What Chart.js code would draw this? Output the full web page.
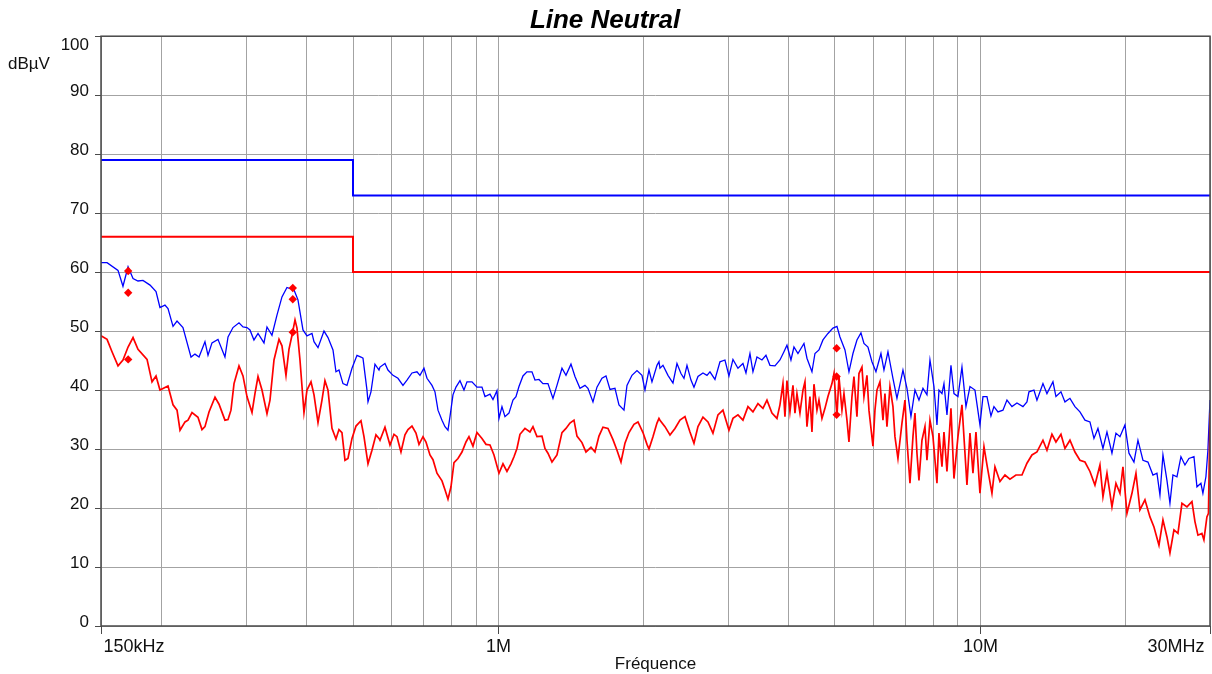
<!DOCTYPE html>
<html><head><meta charset="utf-8">
<script src="https://cdn.jsdelivr.net/npm/chart.js@4.4.1/dist/chart.umd.min.js"></script>
<style>html,body{margin:0;padding:0;background:#fff;}canvas{display:block;}</style>
</head><body>
<canvas id="c" width="1212" height="674"></canvas>
<script>
// ---- data (frequency in MHz, level in dBµV) ----
const freqBlue = [
0.150,0.1544,0.1627,0.1666,0.1707,0.1748,0.1790,0.1833,0.1896,0.1951,0.1988,0.2036,0.2066,0.2116,0.2157,0.2219,0.2306,0.2350,0.2396,0.2465,0.2501,0.2549,0.2623,0.2712,0.2752,0.2818,0.2900,0.2956,0.3013,0.3056,0.3115,0.3176,0.3268,0.3315,0.3395,0.3477,0.3561,0.3647,0.3700,0.3754,0.3844,0.3937,0.4013,0.4110,0.4150,0.4230,0.4353,0.4437,0.4544,0.4609,0.4676,0.4766,0.4858,0.4976,0.5096,0.5194,0.5244,0.5345,0.5371,0.5448,0.5553,0.5661,
0.5688,0.5825,0.5909,0.6052,0.6198,0.6348,0.6471,0.6627,0.6787,0.6885,0.7018,0.7120,0.7292,0.7397,0.7504,0.7649,0.7759,0.7871,0.7947,0.8061,0.8178,0.8335,0.8496,0.8619,0.8827,0.9040,0.9259,0.9393,0.9620,0.9759,0.9947,1.0043,1.0187,1.0334,1.0533,1.0737,1.0892,1.1049,1.1262,1.1479,1.1757,1.1927,1.2157,1.2391,1.2690,1.2998,1.3248,1.3569,1.3831,1.4165,1.4438,1.4787,1.5145,1.5363,1.5735,1.6038,1.6427,1.6744,1.7067,1.7479,1.7816,1.8248,1.8511,1.8958,1.9417,1.9886,2.0173,2.0562,2.0858,2.1363,2.1568,
2.1671,2.1984,2.2516,2.3060,2.3505,2.3959,2.4305,2.4656,2.5131,2.5494,2.5986,2.6613,2.7127,2.7518,2.8182,2.8864,2.9561,3.0132,3.0713,3.1456,3.2216,3.2682,3.3312,3.3792,3.4444,3.5277,3.5958,3.6651,3.7537,3.8445,3.9187,3.9752,4.0519,4.1104,4.1897,4.3117,4.3739,4.4796,4.5442,4.6319,4.7213,4.8354,4.9523,5.0478,5.1207,5.2446,5.3458,5.4488,5.5539,5.6611,5.7429,5.8536,5.9665,6.0817,6.2287,6.3186,6.4405,6.5962,6.7235,6.9193,7.0528,7.1888,7.3275,7.4689,7.6131,7.7600,7.8720,8.0238,8.1396,8.2178,
8.3363,8.4164,8.5379,8.7026,8.8283,8.9986,9.1722,9.3492,9.5295,9.7599,9.9958,10.140,10.336,10.535,10.687,10.893,11.157,11.372,11.647,11.928,12.275,12.512,12.632,12.937,13.124,13.506,13.766,14.167,14.371,14.719,15.003,15.365,15.737,16.117,16.507,16.906,17.232,17.564,17.990,18.337,18.780,19.142,19.511,19.983,20.369,20.861,21.263,21.777,22.304,22.843,23.284,23.620,23.961,24.423,24.776,25.133,25.618,26.112,26.616,27.129,27.786,28.187,28.725,29.001,29.420,29.702,30.0
];
const levelBlue = [
61.6,61.6,60.3,57.6,60.9,58.9,58.5,58.6,57.8,56.7,54.0,54.4,53.8,50.8,51.7,50.6,45.6,46.1,45.6,48.2,45.9,48.0,48.6,45.6,49.0,50.6,51.4,50.7,50.6,50.2,48.5,49.6,48.0,50.7,49.3,52.7,55.8,57.4,57.2,57.4,55.3,50.2,49.2,49.6,48.2,47.2,50.0,48.9,46.8,43.1,43.4,41.1,40.8,43.7,45.9,45.6,45.4,40.0,38.0,39.7,44.4,43.4,
43.9,44.5,43.4,42.5,42.0,40.8,41.7,42.9,43.1,42.5,43.7,42.0,40.8,39.7,36.6,34.9,33.8,33.2,35.5,39.2,40.5,41.6,40.0,41.4,41.4,40.5,40.5,38.9,39.3,38.4,39.9,35.2,37.2,35.5,36.1,38.3,38.9,40.6,42.4,43.1,43.1,41.7,41.8,41.1,41.1,38.6,40.8,43.7,42.5,44.4,42.3,40.3,40.8,40.3,38.0,40.5,42.0,42.4,40.1,40.3,37.5,36.6,40.8,42.5,43.3,42.5,40.0,43.4,41.4,44.2,44.8,
43.7,44.2,42.5,41.2,44.5,42.8,42.0,44.2,41.7,40.5,42.3,42.9,42.5,43.1,41.8,44.8,45.1,42.4,45.2,43.7,44.5,42.9,46.2,43.1,45.6,45.1,45.9,44.2,44.1,45.1,46.5,47.6,45.1,47.3,46.2,47.9,45.4,43.1,46.2,46.8,48.5,49.6,50.5,50.8,49.0,46.8,43.1,46.2,48.5,49.7,47.9,47.3,44.8,43.1,46.2,43.4,46.5,42.0,38.6,43.4,40.3,35.5,40.0,38.3,40.3,39.2,45.1,40.6,34.1,40.0,
39.4,41.1,35.8,44.2,39.4,38.9,43.9,37.2,40.6,40.0,34.1,38.9,38.9,35.6,37.2,36.3,36.6,38.3,37.2,37.8,37.2,38.0,39.7,40.0,38.3,41.1,39.4,41.4,38.9,39.7,38.0,38.6,37.2,36.3,34.9,34.6,31.8,33.5,30.1,32.9,29.3,32.7,32.1,34.1,29.3,27.8,31.5,28.1,27.8,25.6,25.9,22.2,29.0,24.7,20.8,25.6,25.3,28.7,27.3,28.4,28.7,23.6,24.2,22.5,25.3,29.8,38.3
];
const freqRed = [
0.150,0.1544,0.1581,0.1627,0.1666,0.1707,0.1748,0.1790,0.1869,0.1914,0.1951,0.1988,0.2066,0.2116,0.2157,0.2188,0.2241,0.2273,0.2317,0.2384,0.2430,0.2465,0.2513,0.2586,0.2636,0.2712,0.2752,0.2791,0.2832,0.2900,0.2956,0.3013,0.3086,0.3130,0.3176,0.3237,0.3315,0.3363,0.3428,0.3511,0.3561,0.3630,0.3682,0.3736,0.3790,0.3826,0.3881,0.3956,0.4013,0.4091,0.4150,0.4230,0.4311,0.4373,0.4437,0.4522,0.4609,0.4676,0.4743,0.4812,0.4881,0.4976,0.5072,0.5194,0.5269,0.5371,0.5474,0.5580,0.5661,
0.5688,0.5825,0.5966,0.6081,0.6169,0.6288,0.6409,0.6502,0.6627,0.6755,0.6853,0.6985,0.7086,0.7222,0.7327,0.7468,0.7649,0.7759,0.7871,0.7985,0.8100,0.8256,0.8415,0.8578,0.8701,0.8869,0.9040,0.9259,0.9438,0.9620,0.9806,1.0043,1.0236,1.0433,1.0635,1.0789,1.0944,1.1102,1.1370,1.1645,1.1813,1.2041,1.2332,1.2510,1.2690,1.2936,1.3248,1.3569,1.3831,1.4097,1.4370,1.4577,1.4929,1.5217,1.5585,1.5886,1.6192,1.6505,1.6905,1.7313,1.7647,1.7988,1.8335,1.8689,1.9140,1.9510,1.9981,2.0367,2.0562,2.0958,2.1363,2.1568,
2.1671,2.2195,2.2732,2.3282,2.3844,2.4421,2.5011,2.5494,2.5986,2.6613,2.7256,2.7914,2.8589,2.9280,3.0132,3.0713,3.1456,3.2216,3.2995,3.3792,3.4609,3.5446,3.6130,3.7003,3.7898,3.8445,3.9000,3.9374,3.9752,4.0326,4.0908,4.1301,4.1697,4.2299,4.2911,4.3323,4.3739,4.4370,4.4796,4.5226,4.5878,4.6319,4.6988,4.7666,4.8354,4.9287,4.9760,5.0478,5.0963,5.1700,5.2196,5.2949,5.3458,5.4229,5.4749,5.5539,5.6073,5.6882,5.7429,5.8257,5.8817,5.9951,6.0526,6.1108,6.1990,6.2885,6.3489,6.4098,6.5023,6.5962,6.6595,6.7557,6.8863,6.9857,7.0528,7.1546,7.2578,7.3275,7.3978,7.4689,7.5768,7.6862,7.7600,7.8720,7.9855,8.1396,8.2178,
8.3363,8.4164,8.5379,8.7026,8.8283,8.9986,9.1722,9.3940,9.5295,9.6670,9.8070,9.9958,10.189,10.336,10.585,10.738,10.998,11.264,11.536,11.871,12.217,12.512,12.814,13.124,13.506,13.766,14.099,14.371,14.719,15.003,15.365,15.737,16.117,16.507,16.906,17.314,17.733,17.990,18.337,18.780,19.142,19.511,19.793,20.175,20.663,21.061,21.467,21.986,22.518,22.953,23.508,23.961,24.423,24.776,25.253,25.741,26.237,26.871,27.521,27.918,28.322,28.863,29.140,29.560,29.780,30.0
];
const levelRed = [
49.2,48.6,46.5,44.1,45.1,47.3,48.9,46.9,45.2,41.4,42.4,40.0,40.7,37.5,36.6,33.2,34.6,34.9,36.2,35.4,33.3,33.8,36.3,38.8,37.6,34.9,35.0,36.6,41.1,44.1,42.4,38.9,36.2,39.4,42.3,40.0,36.0,38.3,45.1,48.6,47.5,42.5,46.9,49.3,51.9,50.5,45.1,36.2,40.0,41.4,39.2,34.5,38.3,41.6,40.0,33.5,31.7,33.3,32.8,28.1,28.4,31.8,33.9,34.8,32.1,27.5,29.8,32.4,31.8,
31.5,33.7,30.7,32.5,32.1,29.5,32.4,33.3,33.9,32.7,30.8,32.1,31.2,29.0,28.2,25.9,24.6,23.1,21.5,23.6,27.7,28.4,29.5,31.2,32.1,30.5,32.8,31.8,30.8,30.7,29.0,25.9,27.5,26.2,27.5,28.7,30.1,32.5,33.5,32.9,33.8,32.1,32.2,30.1,29.3,27.8,29.0,32.8,33.5,34.4,34.9,32.2,31.1,29.5,30.3,29.5,32.2,33.7,33.5,31.6,29.8,27.8,31.0,32.8,34.2,34.6,32.8,30.8,30.0,32.1,34.4,35.2,
34.9,33.8,32.4,33.5,34.9,35.5,32.9,31.0,33.8,35.4,34.6,32.7,35.8,36.6,33.2,35.2,35.8,34.9,37.2,36.3,37.7,36.9,38.3,36.1,35.2,37.5,41.1,35.5,41.6,36.3,40.8,36.1,39.4,36.1,40.0,41.4,33.8,38.9,32.9,41.0,36.6,38.3,35.2,36.9,38.9,41.1,42.8,35.5,42.3,36.6,39.4,34.9,31.2,38.9,42.3,35.5,42.8,43.9,38.9,42.5,36.6,30.5,36.6,40.0,41.4,34.9,39.4,33.8,40.6,37.2,32.1,28.4,34.4,38.3,31.5,24.2,32.1,36.1,29.3,24.7,31.5,33.8,28.1,34.9,32.1,24.2,32.7,
27.0,32.9,26.2,36.9,25.0,32.1,37.5,23.9,32.7,25.9,32.9,22.5,30.4,27.3,22.5,27.0,24.5,25.6,24.9,25.6,25.6,27.6,29.0,29.5,31.5,29.8,32.5,31.2,32.5,30.1,31.5,29.5,28.1,27.8,26.2,23.9,27.3,21.9,25.9,20.2,24.2,22.5,27.0,19.1,22.5,25.9,19.7,21.4,18.5,16.8,13.7,18.0,15.1,12.4,16.3,15.7,20.8,20.2,21.1,17.7,15.4,15.7,14.6,18.5,19.1,36.1
];
const limitFreq = [0.15, 0.5, 0.5, 30];
const limitQP = [79, 79, 73, 73];
const limitAV = [66, 66, 60, 60];
const markerFreq = [0.1708, 0.1708, 0.1708, 0.375, 0.375, 0.375, 5.04, 5.04, 5.04];
const markerLevel = [60.2, 56.5, 45.2, 57.3, 55.4, 49.8, 47.1, 42.3, 35.8];
const gridFreq = [0.15,0.2,0.3,0.4,0.5,0.6,0.7,0.8,0.9,1,2,3,4,5,6,7,8,9,10,20,30];
const xLabelFreq = [0.15, 1, 10, 30];
const xLabelText = ['150kHz', '1M', '10M', '30MHz'];
const yTickValues = [0,10,20,30,40,50,60,70,80,90,100];

// ---- chart ----
const FONT = '"Liberation Sans", Arial, Helvetica, sans-serif';
const pts = (fx, fy) => fx.map((f, i) => ({x: f, y: fy[i]}));

const decor = {
  id: 'decor',
  afterDraw(chart) {
    const {ctx, chartArea: a, scales: {x, y}} = chart;
    ctx.save();
    ctx.strokeStyle = '#4a4a4a';
    ctx.lineWidth = 1.5;
    ctx.strokeRect(a.left, a.top, a.right - a.left, a.bottom - a.top);
    ctx.lineWidth = 1;
    ctx.fillStyle = '#111';
    ctx.font = '17px ' + FONT;
    ctx.textAlign = 'right';
    ctx.textBaseline = 'middle';
    yTickValues.forEach(v => {
      const py = Math.round(y.getPixelForValue(v)) + 0.5;
      ctx.beginPath(); ctx.moveTo(a.left - 6, py); ctx.lineTo(a.left, py); ctx.stroke();
      ctx.fillText(String(v), a.left - 12, v === 100 ? py + 9 : py - 4.5);
    });
    ctx.textAlign = 'left';
    ctx.fillText('dBµV', 8, 64);
    ctx.font = '18px ' + FONT;
    xLabelFreq.forEach((f, i) => {
      const px = Math.round(x.getPixelForValue(f)) + 0.5;
      ctx.beginPath(); ctx.moveTo(px, a.bottom); ctx.lineTo(px, a.bottom + 8); ctx.stroke();
      ctx.textAlign = i === 0 ? 'left' : (i === xLabelFreq.length - 1 ? 'right' : 'center');
      const tx = i === 0 ? px + 2 : (i === xLabelFreq.length - 1 ? px - 6 : px);
      ctx.fillText(xLabelText[i], tx, 647);
    });
    ctx.font = '17px ' + FONT;
    ctx.textAlign = 'center';
    ctx.fillText('Fréquence', (a.left + a.right) / 2, 664);
    ctx.restore();
  }
};

new Chart(document.getElementById('c'), {
  type: 'line',
  data: {
    datasets: [
      {label: 'Markers', data: pts(markerFreq, markerLevel), showLine: false, pointStyle: 'rectRot',
       pointRadius: 4.2, pointBackgroundColor: '#ff0000', pointBorderWidth: 0, borderColor: '#ff0000'},
      {label: 'AV', data: pts(freqRed, levelRed), borderColor: '#ff0000', borderWidth: 1.7, pointRadius: 0, tension: 0},
      {label: 'Peak', data: pts(freqBlue, levelBlue), borderColor: '#0000ff', borderWidth: 1.3, pointRadius: 0, tension: 0},
      {label: 'Limit AV', data: pts(limitFreq, limitAV), borderColor: '#ff0000', borderWidth: 2, pointRadius: 0, tension: 0},
      {label: 'Limit QP', data: pts(limitFreq, limitQP), borderColor: '#0000ff', borderWidth: 2, pointRadius: 0, tension: 0}
    ]
  },
  options: {
    responsive: false,
    animation: false,
    events: [],
    layout: {autoPadding: false, padding: {left: 0, right: 2, top: 0, bottom: 0}},
    plugins: {
      legend: {display: false},
      tooltip: {enabled: false},
      title: {display: true, text: 'Line Neutral', color: '#000',
              font: {family: FONT, size: 26, weight: 'bold', style: 'italic', lineHeight: 1.2},
              padding: {top: 5, bottom: 0}}
    },
    scales: {
      x: {
        type: 'logarithmic', min: 0.15, max: 30,
        afterBuildTicks: s => { s.ticks = gridFreq.map(v => ({value: v})); },
        afterFit: s => { s.height = 48; },
        ticks: {display: false},
        grid: {color: '#a3a3a3', lineWidth: 1, drawTicks: false},
        border: {display: false}
      },
      y: {
        min: 0, max: 100,
        afterBuildTicks: s => { s.ticks = yTickValues.map(v => ({value: v})); },
        afterFit: s => { s.width = 101; },
        ticks: {display: false},
        grid: {color: '#a3a3a3', lineWidth: 1, drawTicks: false},
        border: {display: false}
      }
    }
  },
  plugins: [decor]
});
</script>
</body></html>
